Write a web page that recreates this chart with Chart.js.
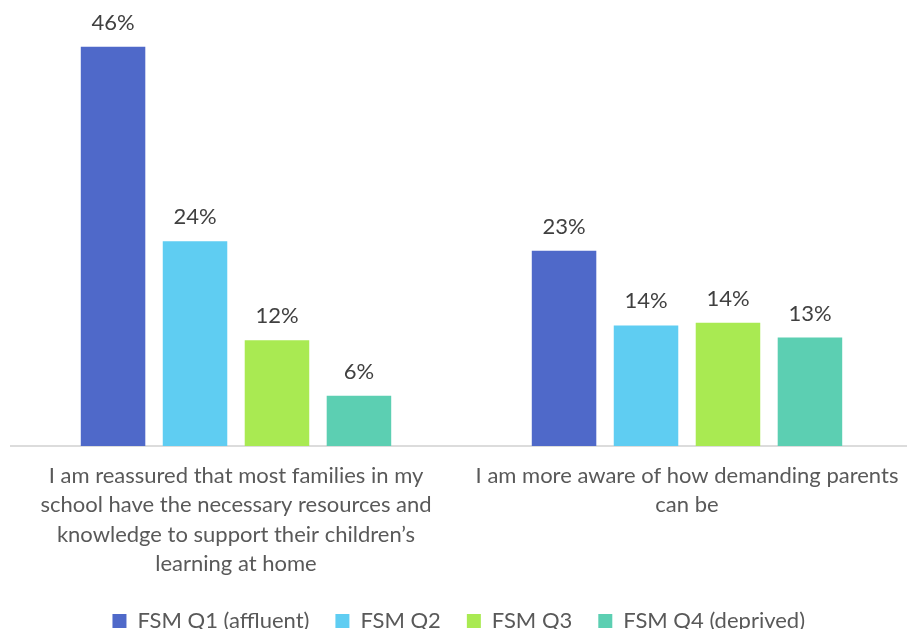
<!DOCTYPE html>
<html>
<head>
<meta charset="utf-8">
<script src="https://cdn.jsdelivr.net/npm/chart.js@4.4.1/dist/chart.umd.min.js"></script>
<style>
html,body{margin:0;padding:0;background:#fff;}
#wrap{width:907px;height:629px;}
</style>
</head>
<body>
<div id="wrap"><canvas id="c" width="907" height="629"></canvas></div>
<script>
const categories = [
  ["I am reassured that most families in my", "school have the necessary resources and", "knowledge to support their children\u2019s", "learning at home"],
  ["I am more aware of how demanding parents", "can be"]
];
const seriesNames = ["FSM Q1 (affluent)", "FSM Q2", "FSM Q3", "FSM Q4 (deprived)"];
const q1 = [46.0, 22.5];
const q2 = [23.6, 13.9];
const q3 = [12.2, 14.2];
const q4 = [5.8, 12.5];
const colors = ["#4F69C9", "#5FCDF2", "#A9EA52", "#5CCFB2"];

const FONT = "Lato, 'Open Sans', sans-serif";

const valueLabels = {
  id: 'valueLabels',
  afterDatasetsDraw(chart) {
    const ctx = chart.ctx;
    ctx.save();
    ctx.font = "22px " + FONT;
    ctx.fillStyle = "#404040";
    ctx.textAlign = "center";
    ctx.textBaseline = "alphabetic";
    chart.data.datasets.forEach((ds, i) => {
      const meta = chart.getDatasetMeta(i);
      meta.data.forEach((bar, j) => {
        ctx.fillText(Math.round(ds.data[j]) + "%", bar.x, bar.y - 17);
      });
    });
    ctx.restore();
  }
};

// let the category axis run a little past the right edge, as in the original
const widenX = {
  id: 'widenX',
  afterLayout(chart) {
    const x = chart.scales.x;
    x.right = chart.width + 5.5;
    x.width = x.right - x.left;
    x.configure();
  }
};

const seriesData = [q1, q2, q3, q4];
new Chart(document.getElementById('c'), {
  type: 'bar',
  data: {
    labels: categories,
    datasets: seriesNames.map((n, i) => ({
      label: n,
      data: seriesData[i],
      backgroundColor: colors[i],
      borderWidth: 0,
      categoryPercentage: 0.727,
      barPercentage: 0.787
    }))
  },
  options: {
    responsive: false,
    animation: false,
    layout: { padding: { left: 10.5, right: 0, top: 12, bottom: -13 } },
    scales: {
      x: {
        grid: { display: false, drawTicks: false },
        border: { display: true, color: "#DCDCDC", width: 2 },
        ticks: {
          color: "#595959",
          padding: 15,
          maxRotation: 0,
          autoSkip: false,
          font: { family: FONT, size: 22, lineHeight: 1.34 }
        },
        afterFit(scale) { scale.height -= 10; }
      },
      y: {
        display: false,
        min: 0,
        max: 50
      }
    },
    plugins: {
      legend: {
        position: 'bottom',
        labels: {
          color: "#595959",
          boxWidth: 14,
          boxHeight: 14,
          padding: 26,
          font: { family: FONT, size: 22 }
        }
      },
      tooltip: { enabled: false }
    }
  },
  plugins: [valueLabels, widenX]
});
</script>
</body>
</html>
